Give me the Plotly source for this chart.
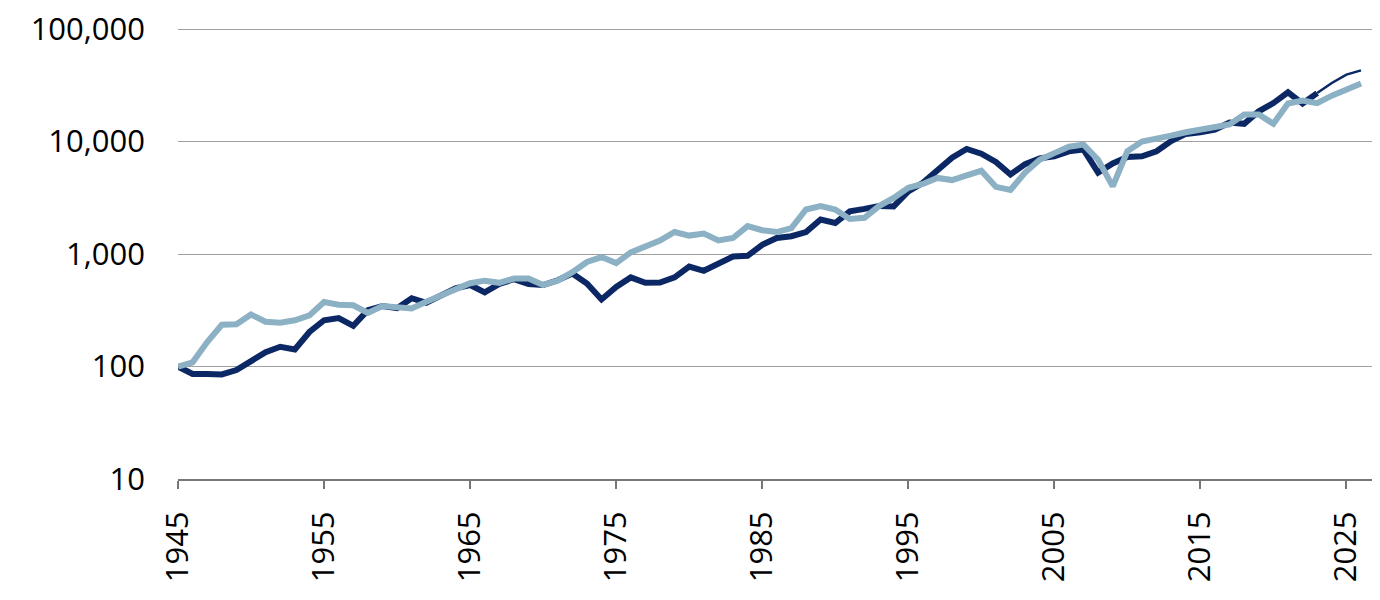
import plotly.graph_objects as go

years = list(range(1945, 2027))

dark_years = list(range(1945, 2024))
dark_values = [
    100, 86, 86, 85, 93, 113, 134, 150, 142, 203,
    258, 270, 230, 317, 345, 330, 405, 369, 432, 496,
    531, 457, 542, 597, 542, 531, 585, 673, 548, 395,
    510, 620, 555, 558, 620, 775, 710, 820, 950, 965,
    1210, 1390, 1440, 1570, 2030, 1890, 2400, 2520, 2680, 2650,
    3600, 4300, 5650, 7200, 8600, 7800, 6600, 5100, 6300, 7100,
    7400, 8200, 8500, 5300, 6400, 7300, 7400, 8200, 10100, 11700,
    12100, 12800, 14800, 14400, 18600, 22000, 27400, 21800, 27000,
]

proj_years = [2023, 2024, 2025, 2026]
proj_values = [27000, 33200, 39400, 43000]

light_values = [
    100, 109, 165, 235, 238, 290, 250, 245, 258, 285,
    375, 355, 350, 300, 345, 335, 328, 377, 432, 496,
    550, 580, 555, 605, 605, 531, 580, 690, 850, 940,
    832, 1035, 1170, 1320, 1570, 1460, 1520, 1320, 1390, 1770,
    1630, 1570, 1700, 2490, 2670, 2490, 2050, 2100, 2670, 3160,
    3880, 4200, 4750, 4550, 5000, 5500, 3960, 3720, 5300, 6900,
    7900, 9000, 9400, 6900, 4000, 8200, 10000, 10500, 11300, 12100,
    12800, 13500, 14200, 17400, 17400, 14400, 21800, 23200, 22000, 25600,
    29000, 32800,
]

y_ticks = [10, 100, 1000, 10000, 100000]
y_labels = ["10", "100", "1,000", "10,000", "100,000"]

dark = "#0b2865"
light = "#8cb1c4"

fig = go.Figure()
fig.add_trace(go.Scatter(x=dark_years, y=dark_values, mode="lines",
                         line=dict(color=dark, width=6), showlegend=False))
fig.add_trace(go.Scatter(x=proj_years, y=proj_values, mode="lines",
                         line=dict(color=dark, width=2.5), showlegend=False))
fig.add_trace(go.Scatter(x=years, y=light_values, mode="lines",
                         line=dict(color=light, width=6), showlegend=False))

# page body has an 8px margin, so the plot box is shifted back by that much
fig.update_layout(
    width=1380, height=600,
    margin=dict(l=170, r=8, t=20, b=129),
    plot_bgcolor="white", paper_bgcolor="white",
    font=dict(family="Open Sans", size=31, color="black"),
    xaxis=dict(
        range=[1945, 2027.3], tick0=1945, dtick=10,
        tickangle=-90, showgrid=False, automargin=False,
        showline=True, linecolor="#777777", linewidth=2,
        ticks="outside", ticklen=8, tickwidth=2, tickcolor="#777777",
        ticklabelstandoff=10,
    ),
    yaxis=dict(
        type="log", range=[1, 5.01], automargin=False,
        tickvals=y_ticks, ticktext=y_labels,
        showgrid=True, gridcolor="#a0a0a0", gridwidth=1,
        showline=False, ticks="", ticklabelstandoff=32,
        ticklabeloverflow="allow", zeroline=False,
    ),
)

fig.write_html("out.html")
